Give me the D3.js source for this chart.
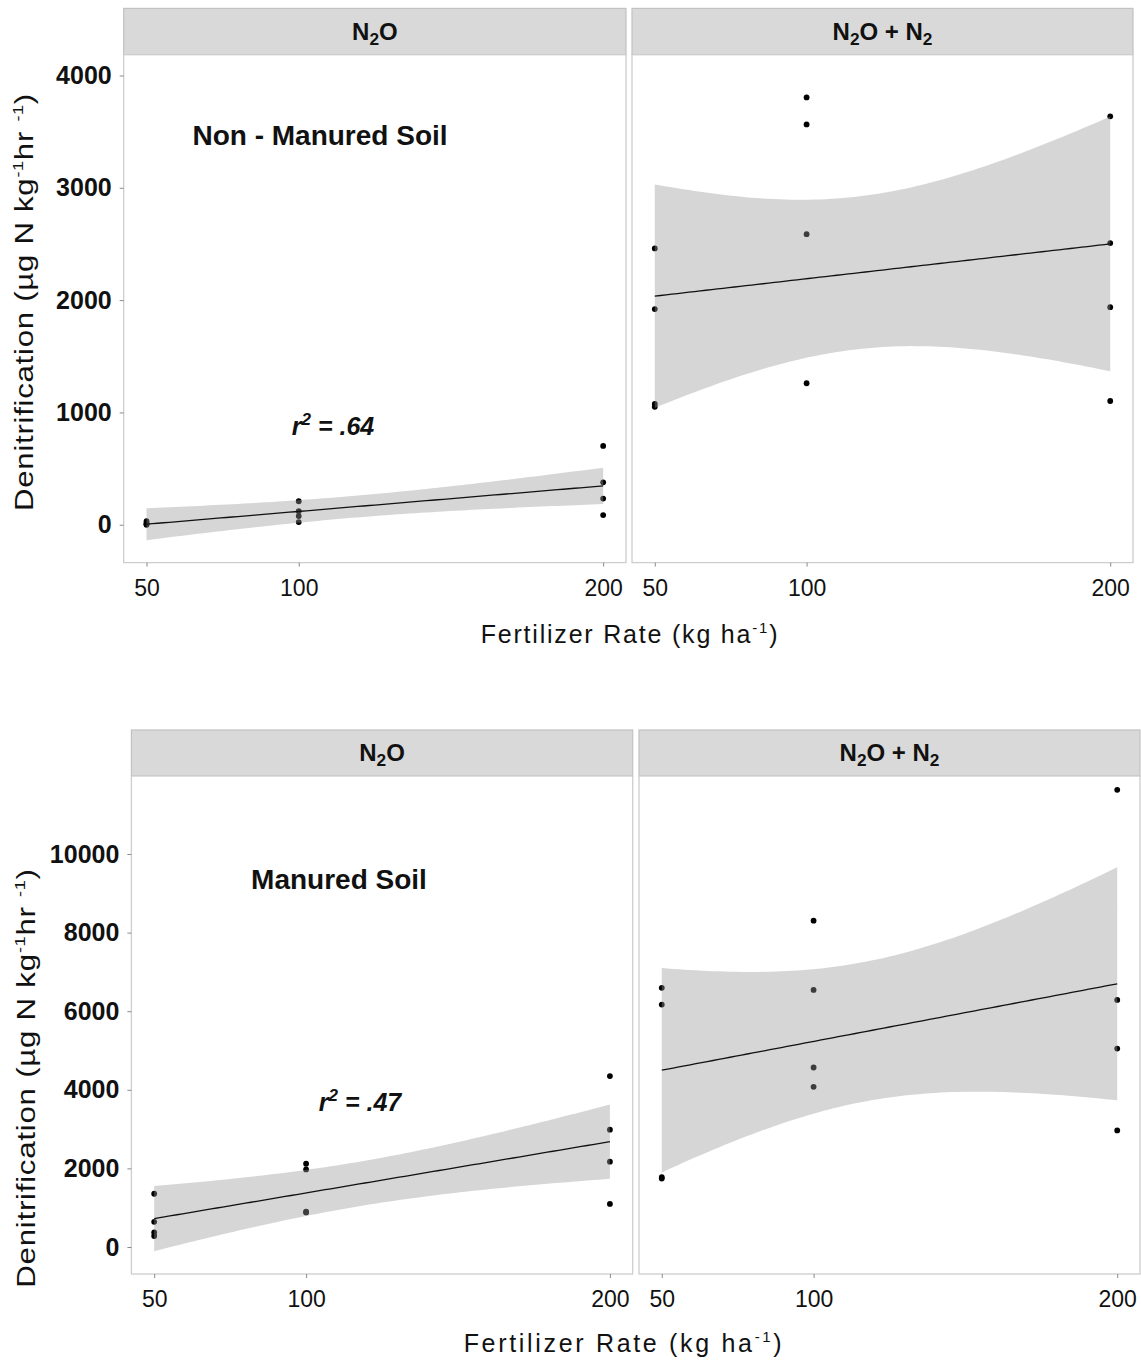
<!DOCTYPE html>
<html>
<head>
<meta charset="utf-8">
<script src="https://cdn.jsdelivr.net/npm/d3@7"></script>
<style>
body { margin: 0; background: #fff; }
text { font-family: "Liberation Sans", Arial, sans-serif; fill: #111; }
</style>
</head>
<body>
<svg id="chart" width="1141" height="1362"></svg>
<script>
// values -- 4 cores per fertilizer rate
var rates            = [50, 50, 50, 50, 100, 100, 100, 100, 200, 200, 200, 200];
var nonManuredN2O    = [32, 12, 5, 0, 209, 121, 77, 24, 702, 378, 233, 86];
var nonManuredTotal  = [2460, 1920, 1075, 1050, 3805, 3564, 2587, 1260, 3636, 2508, 1937, 1102];
var manuredN2O       = [1355, 640, 370, 280, 2118, 1975, 900, 880, 4350, 2985, 2170, 1095];
var manuredTotal     = [6596, 6169, 1780, 1740, 8303, 6542, 4568, 4077, 11633, 6286, 5048, 2967];

var xTicks           = [50, 100, 200];
var yTicksNonManured = [0, 1000, 2000, 3000, 4000];
var yTicksManured    = [0, 2000, 4000, 6000, 8000, 10000];
var stripLabels      = ['N_2O', 'N_2O + N_2'];
var soilLabels       = ['Non - Manured Soil', 'Manured Soil'];
var r2Labels         = ['.64', '.47'];

// two-sided 95% t quantiles
var tCrit = {1: 12.706, 2: 4.303, 3: 3.182, 4: 2.776, 5: 2.571, 6: 2.447, 7: 2.365,
             8: 2.306, 9: 2.262, 10: 2.228, 11: 2.201, 12: 2.179, 13: 2.160, 14: 2.145};

var svg = d3.select('#chart');

// figure layout (pixels)
var figures = [
	{ stripTop: 8.4, panelTop: 54.7, panelBottom: 562.6,
		panels: [[123.7, 626], [632, 1133]], yDomain: [-337, 4185],
		yTicks: yTicksNonManured, series: [nonManuredN2O, nonManuredTotal],
		soil: soilLabels[0], soilPos: [320, 145], r2: r2Labels[0], r2Pos: [333, 435],
		yTitleX: 33, yTitleY: 302, yTitleLen: 418, xTitleX: 630, xTitleY: 643, xTitleLen: 297 },
	{ stripTop: 730, panelTop: 776, panelBottom: 1274,
		panels: [[131.4, 632.7], [639, 1140]], yDomain: [-687, 11985],
		yTicks: yTicksManured, series: [manuredN2O, manuredTotal],
		soil: soilLabels[1], soilPos: [339, 889], r2: r2Labels[1], r2Pos: [360, 1111],
		yTitleX: 35, yTitleY: 1078, yTitleLen: 420, xTitleX: 624, xTitleY: 1352, xTitleLen: 318 }
];

function linFit(xs, ys) {
	var n  = xs.length;
	var mx = d3.mean(xs), my = d3.mean(ys);
	var sxx = d3.sum(xs, function(x) { return (x - mx) * (x - mx); });
	var sxy = d3.sum(xs, function(x, i) { return (x - mx) * (ys[i] - my); });
	var b = sxy / sxx, a = my - b * mx;
	var sse = d3.sum(xs, function(x, i) { var r = ys[i] - (a + b * x); return r * r; });
	var s = Math.sqrt(sse / (n - 2));
	var t = tCrit[n - 2];
	return function(x) {
		var fit = a + b * x;
		var half = t * s * Math.sqrt(1 / n + (x - mx) * (x - mx) / sxx);
		return { x: x, fit: fit, lo: fit - half, hi: fit + half };
	};
}

// "N_2O" -> N, subscript 2, O
function addChem(textSel, label, size) {
	var shift = 0;
	label.split(/(_\d)/).forEach(function(part) {
		if (!part) return;
		if (part[0] === '_') {
			textSel.append('tspan').style('font-size', (size * 0.72) + 'px')
				.attr('dy', size * 0.22 - shift).text(part.slice(1));
			shift = size * 0.22;
		} else {
			textSel.append('tspan').attr('dy', -shift).text(part);
			shift = 0;
		}
	});
}

function spreadTo(textSel, target) {
	var node = textSel.node();
	var len  = node.getComputedTextLength();
	var chars = node.textContent.length;
	textSel.attr('letter-spacing', ((target - len) / (chars - 1)).toFixed(2));
}

figures.forEach(function(fig, f) {
	var g = svg.append('g');
	var y = d3.scaleLinear().domain(fig.yDomain).range([fig.panelBottom, fig.panelTop]);

	fig.panels.forEach(function(px, p) {
		var x = d3.scaleLinear().domain([42.5, 207.5]).range(px);
		var pg = g.append('g');

		// strip
		pg.append('rect')
			.attr('x', px[0]).attr('y', fig.stripTop)
			.attr('width', px[1] - px[0]).attr('height', fig.panelTop - fig.stripTop)
			.attr('fill', '#d9d9d9').attr('stroke', '#c2c2c2').attr('stroke-width', 1.2);
		var st = pg.append('text')
			.attr('x', (px[0] + px[1]) / 2).attr('y', fig.panelTop - 15)
			.attr('text-anchor', 'middle')
			.style('font-size', '24px').style('font-weight', 'bold');
		addChem(st, stripLabels[p], 24);

		// panel
		pg.append('rect')
			.attr('x', px[0]).attr('y', fig.panelTop)
			.attr('width', px[1] - px[0]).attr('height', fig.panelBottom - fig.panelTop)
			.attr('fill', '#fff').attr('stroke', '#cdcdcd').attr('stroke-width', 1.3);

		var ys = fig.series[p];
		var model = linFit(rates, ys);
		var band = d3.range(0, 81).map(function(i) { return model(50 + i * 150 / 80); });

		pg.append('g').selectAll('circle')
			.data(ys).enter().append('circle')
			.attr('cx', function(d, i) { return x(rates[i]); })
			.attr('cy', function(d) { return y(d); })
			.attr('r', 2.9)
			.attr('fill', '#000');

		pg.append('path')
			.datum(band)
			.attr('d', d3.area()
				.x(function(d) { return x(d.x); })
				.y0(function(d) { return y(d.lo); })
				.y1(function(d) { return y(d.hi); }))
			.attr('fill', '#999999').attr('fill-opacity', 0.4);

		pg.append('path')
			.datum(band)
			.attr('d', d3.line()
				.x(function(d) { return x(d.x); })
				.y(function(d) { return y(d.fit); }))
			.attr('fill', 'none').attr('stroke', '#111').attr('stroke-width', 1.3);

		// x axis
		var xa = pg.append('g')
			.attr('transform', 'translate(0,' + fig.panelBottom + ')')
			.call(d3.axisBottom(x).tickValues(xTicks).tickSize(4).tickPadding(13));
		xa.select('.domain').remove();
		xa.selectAll('line').attr('stroke', '#8a8a8a');
		xa.selectAll('text').style('font-size', '23px').attr('fill', '#000');

		if (p === 0) {
			var ya = pg.append('g')
				.attr('transform', 'translate(' + px[0] + ',0)')
				.call(d3.axisLeft(y).tickValues(fig.yTicks).tickSize(4).tickPadding(8).tickFormat(d3.format('d')));
			ya.select('.domain').remove();
			ya.selectAll('line').attr('stroke', '#8a8a8a');
			ya.selectAll('text').style('font-size', '25px').style('font-weight', 'bold').attr('fill', '#000');

			pg.append('text')
				.attr('x', fig.soilPos[0]).attr('y', fig.soilPos[1])
				.attr('text-anchor', 'middle')
				.style('font-size', '28px').style('font-weight', 'bold')
				.text(fig.soil);

			var r2 = pg.append('text')
				.attr('x', fig.r2Pos[0]).attr('y', fig.r2Pos[1])
				.attr('text-anchor', 'middle')
				.style('font-size', '25px').style('font-weight', 'bold').style('font-style', 'italic');
			r2.append('tspan').text('r');
			r2.append('tspan').style('font-size', '17px').attr('dy', -10).text('2');
			r2.append('tspan').attr('dy', 10).text(' = ' + fig.r2);
		}
	});

	// axis titles: y title stretched along its length, x title letter-spaced
	var ytg = g.append('g')
		.attr('transform', 'translate(' + fig.yTitleX + ',' + fig.yTitleY + ') rotate(-90)');
	var yt = ytg.append('text')
		.attr('text-anchor', 'middle')
		.style('font-size', '26px');
	yt.append('tspan').text('Denitrification (µg N kg');
	yt.append('tspan').style('font-size', '15px').attr('dy', -10).text('-1');
	yt.append('tspan').attr('dy', 10).text('hr ');
	yt.append('tspan').style('font-size', '15px').attr('dy', -10).text('-1');
	yt.append('tspan').attr('dy', 10).text(')');
	var natural = yt.node().getComputedTextLength();
	yt.attr('letter-spacing', 0.6);
	natural = yt.node().getComputedTextLength();
	yt.attr('transform', 'scale(' + (fig.yTitleLen / natural).toFixed(3) + ',1)');

	var xt = g.append('text')
		.attr('x', fig.xTitleX).attr('y', fig.xTitleY)
		.attr('text-anchor', 'middle')
		.style('font-size', '25px');
	xt.append('tspan').text('Fertilizer Rate (kg ha');
	xt.append('tspan').style('font-size', '15px').attr('dy', -10).text('-1');
	xt.append('tspan').attr('dy', 10).text(')');
	spreadTo(xt, fig.xTitleLen);
});
</script>
</body>
</html>
